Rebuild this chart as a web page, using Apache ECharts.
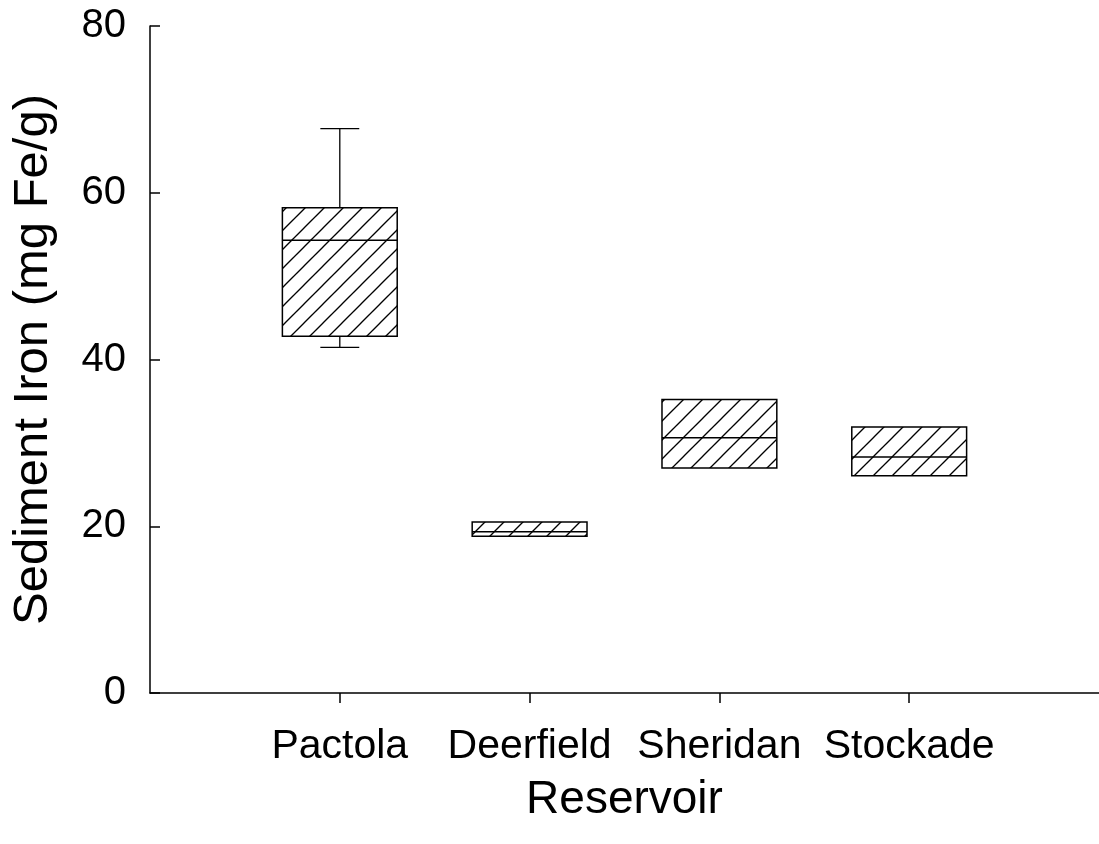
<!DOCTYPE html>
<html>
<head>
<meta charset="utf-8">
<script src="https://cdn.jsdelivr.net/npm/echarts@6/dist/echarts.min.js"></script>
<style>
html,body{margin:0;padding:0;background:#fff;}
#chart{width:1099px;height:844px;}
</style>
</head>
<body>
<div id="chart"></div>
<script>
// Data
const categories = ['Pactola', 'Deerfield', 'Sheridan', 'Stockade'];
const lowWhisker  = [41.45, null, null, null];
const q1          = [42.8, 18.8, 27.0, 26.05];
const median      = [54.3, 19.35, 30.6, 28.3];
const q3          = [58.2, 20.5, 35.2, 31.9];
const highWhisker = [67.7, null, null, null];
const yTicks = [0, 20, 40, 60, 80];

const FONT = 'Liberation Sans, Arial, Helvetica, sans-serif';

// hatch pattern
const S = 19;
const pc = document.createElement('canvas');
pc.width = S; pc.height = S;
const g = pc.getContext('2d');
g.fillStyle = '#fff';
g.fillRect(0, 0, S, S);
g.strokeStyle = '#000';
g.lineWidth = 1.3;
[0, S, 2 * S].forEach(function (c) {
  g.beginPath();
  g.moveTo(c - S - 1, S + 1);
  g.lineTo(c + 1, -1);
  g.stroke();
});
const hatch = { image: pc, repeat: 'repeat' };

const seriesData = categories.map(function (name, i) {
  return [i + 1, lowWhisker[i], q1[i], median[i], q3[i], highWhisker[i]];
});

const chart = echarts.init(document.getElementById('chart'), null, { renderer: 'canvas' });

function renderItem(params, api) {
  const x = api.value(0);
  const unit = api.size([1, 0])[0];
  const boxW = unit * 0.605;
  const capW = unit * 0.205;
  const pQ1 = api.coord([x, api.value(2)]);
  const pMed = api.coord([x, api.value(3)]);
  const pQ3 = api.coord([x, api.value(4)]);
  const cx = pQ1[0];
  const children = [];
  const lineStyle = { stroke: '#000', lineWidth: 1.3 };
  const lo = api.value(1), hi = api.value(5);
  if (hi != null && !isNaN(hi)) {
    const pHi = api.coord([x, hi]);
    children.push({ type: 'line', shape: { x1: cx, y1: pQ3[1], x2: cx, y2: pHi[1] }, style: lineStyle });
    children.push({ type: 'line', shape: { x1: cx - capW / 2, y1: pHi[1], x2: cx + capW / 2, y2: pHi[1] }, style: lineStyle });
  }
  if (lo != null && !isNaN(lo)) {
    const pLo = api.coord([x, lo]);
    children.push({ type: 'line', shape: { x1: cx, y1: pQ1[1], x2: cx, y2: pLo[1] }, style: lineStyle });
    children.push({ type: 'line', shape: { x1: cx - capW / 2, y1: pLo[1], x2: cx + capW / 2, y2: pLo[1] }, style: lineStyle });
  }
  children.push({
    type: 'rect',
    shape: { x: cx - boxW / 2, y: pQ3[1], width: boxW, height: pQ1[1] - pQ3[1] },
    style: { fill: hatch, stroke: '#000', lineWidth: 1.5 }
  });
  children.push({ type: 'line', shape: { x1: cx - boxW / 2, y1: pMed[1], x2: cx + boxW / 2, y2: pMed[1] }, style: { stroke: '#000', lineWidth: 1.5 } });
  return { type: 'group', children: children };
}

chart.setOption({
  backgroundColor: '#fff',
  animation: false,
  grid: { left: 150, top: 26, width: 952, height: 667 },
  xAxis: {
    type: 'value', min: 0, max: 5, interval: 1,
    name: 'Reservoir', nameLocation: 'middle', nameGap: 84,
    nameTextStyle: { fontFamily: FONT, fontSize: 46, color: '#000' },
    axisLine: { show: true, lineStyle: { color: '#000', width: 1.5 } },
    axisTick: { show: true, length: 10, customValues: [1, 2, 3, 4], lineStyle: { color: '#000', width: 1.5 } },
    axisLabel: {
      customValues: [1, 2, 3, 4], margin: 33,
      fontFamily: FONT, fontSize: 41, color: '#000',
      formatter: function (v) { return categories[Math.round(v) - 1] || ''; }
    },
    splitLine: { show: false }
  },
  yAxis: {
    type: 'value', min: 0, max: 80, interval: 20,
    name: 'Sediment Iron (mg Fe/g)', nameLocation: 'middle', nameGap: 92,
    nameTextStyle: { fontFamily: FONT, fontSize: 49, color: '#000' },
    axisLine: { show: true, lineStyle: { color: '#000', width: 1.5 } },
    axisTick: { show: true, inside: true, length: 10, customValues: yTicks, lineStyle: { color: '#000', width: 1.5 } },
    axisLabel: { customValues: yTicks, margin: 24, fontFamily: FONT, fontSize: 40, color: '#000' },
    splitLine: { show: false }
  },
  series: [{
    type: 'custom',
    renderItem: renderItem,
    encode: { x: 0, y: [1, 2, 3, 4, 5] },
    data: seriesData,
    clip: false
  }]
});
</script>
</body>
</html>
